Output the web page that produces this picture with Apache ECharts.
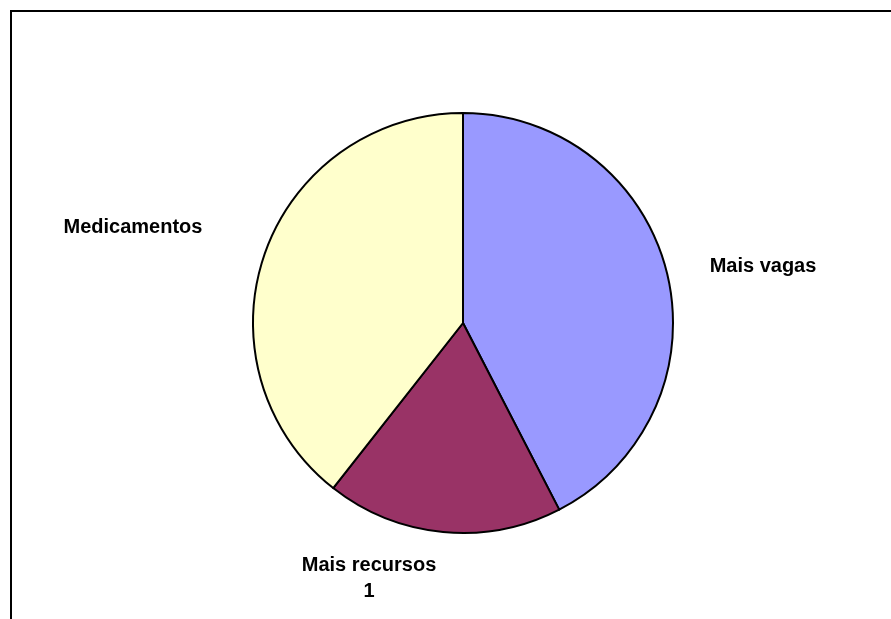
<!DOCTYPE html>
<html>
<head>
<meta charset="utf-8">
<style>
  html, body { margin: 0; padding: 0; background: #fff; }
  #chart { width: 891px; height: 619px; }
</style>
<script src="https://cdn.jsdelivr.net/npm/echarts@6/dist/echarts.min.js"></script>
</head>
<body>
<div id="chart"></div>
<script>
// Categories and their counts
const categories = ['Mais vagas', 'Mais recursos\n1', 'Medicamentos'];
const values = [14, 6, 13];
const colors = ['#9999FF', '#993366', '#FFFFCC'];

// Where each slice's label sits (centre of the text block)
const labelSpots = [
  { x: 763, y: 266 },
  { x: 369, y: 578 },
  { x: 133, y: 227 }
];

const chart = echarts.init(document.getElementById('chart'), null, { renderer: 'canvas' });

chart.setOption({
  backgroundColor: '#ffffff',
  animation: false,
  graphic: [{
    type: 'rect',
    shape: { x: 11, y: 11, width: 1000, height: 1000 },
    style: { fill: 'none', stroke: '#000', lineWidth: 2 },
    silent: true,
    z: 0
  }],
  series: [{
    type: 'pie',
    center: [463, 323],
    radius: 210,
    startAngle: 90,
    clockwise: true,
    avoidLabelOverlap: false,
    itemStyle: { borderColor: '#000', borderWidth: 2 },
    label: {
      show: true,
      position: 'outside',
      formatter: '{b}',
      fontFamily: '"Liberation Sans", Arial, sans-serif',
      fontWeight: 'bold',
      fontSize: 20,
      lineHeight: 26,
      color: '#000',
      align: 'center'
    },
    labelLine: { show: false },
    labelLayout: function (params) {
      const p = labelSpots[params.dataIndex];
      return { x: p.x, y: p.y, align: 'center', verticalAlign: 'middle' };
    },
    emphasis: { disabled: true },
    data: categories.map((name, i) => ({
      name: name,
      value: values[i],
      itemStyle: { color: colors[i] }
    }))
  }]
});
</script>
</body>
</html>
